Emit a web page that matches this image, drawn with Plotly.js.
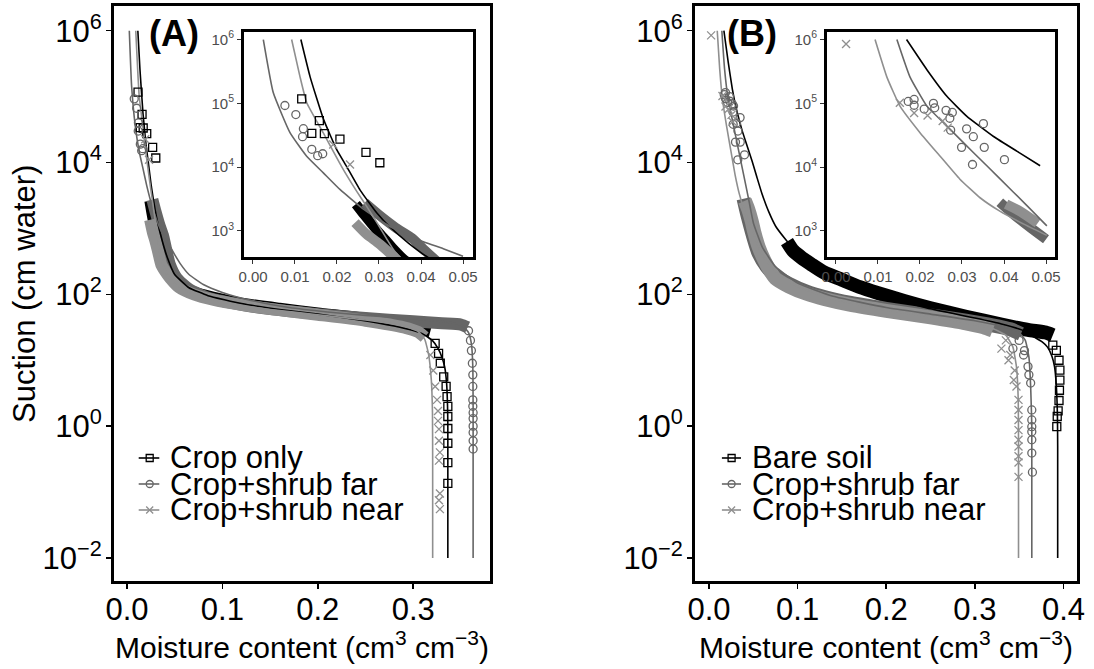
<!DOCTYPE html>
<html><head><meta charset="utf-8">
<script src="https://cdn.plot.ly/plotly-3.0.1.min.js"></script>
<style>html,body{margin:0;padding:0;background:#fff;}#chart{width:1094px;height:669px;}</style>
</head><body><div id="chart"></div>
<script>
// ===================== PANEL A =====================
// Fitted curves
const A_cropFit_theta = [0.0114,0.0136,0.0168,0.0199,0.0223,0.0255,0.0295,0.0326,0.0370,0.0420,0.0500,0.0650,0.0850,0.120,0.160,0.200,0.240,0.280,0.300,0.310,0.320,0.326,0.330,0.333,0.335,0.336,0.3363,0.3363];
const A_cropFit_h     = [1e6,2.6e5,5.6e4,1.9e4,1.02e4,4365,1905,1150,646,372,200,126,95.5,72.4,58.9,50.1,41.7,33.1,28.2,25.1,20,15.1,11.2,7.9,4.5,2.0,1.0,0.01];
const A_farFit_theta  = [0.00246,0.00484,0.00881,0.01278,0.01675,0.0207,0.0263,0.0326,0.0390,0.0453,0.050,0.056,0.065,0.080,0.100,0.130,0.170,0.210,0.250,0.290,0.320,0.340,0.352,0.358,0.361,0.3625,0.3628,0.3628];
const A_farFit_h      = [1e6,1.46e5,3.47e4,1.48e4,8130,4470,2190,1175,741,525,400,290,200,141,107,81,63,54,48,43.7,39.8,37.2,33.1,26.3,17.8,7.9,2.0,0.01];
const A_nearFit_theta = [0.0092,0.0112,0.0128,0.0167,0.0211,0.0247,0.0271,0.0295,0.0318,0.0335,0.036,0.042,0.050,0.070,0.100,0.150,0.200,0.250,0.290,0.305,0.312,0.316,0.319,0.3202,0.3204,0.3204];
const A_nearFit_h     = [1e6,2.6e5,1.02e5,3.47e4,1.02e4,4170,2400,1350,759,501,330,200,145,100,75.9,58.9,49,40.7,33.1,27.5,20.9,12.6,5.0,1.6,0.3,0.01];
// Dense sensor bands
const A_cropBand_theta = [0.0245,0.0265,0.029,0.031,0.033,0.036,0.040,0.046,0.055,0.07,0.09,0.12,0.16,0.20,0.25,0.29,0.31,0.318];
const A_cropBand_h     = [2630,1780,1120,794,562,355,251,191,141,107,89.1,72.4,60.3,51.3,42.7,34.7,29.5,27.5];
const A_farBand_theta  = [0.0266,0.030,0.034,0.038,0.0405,0.045,0.052,0.065,0.085,0.12,0.16,0.20,0.25,0.30,0.33,0.35,0.357];
const A_farBand_h      = [2750,1780,1120,759,525,282,178,120,89.1,69.2,57.5,50.1,43.7,38.9,36.3,34.7,31.6];
const A_nearBand_theta = [0.0243,0.027,0.030,0.0326,0.036,0.040,0.045,0.055,0.070,0.09,0.12,0.16,0.20,0.25,0.29,0.305,0.312];
const A_nearBand_h     = [1350,891,631,447,282,224,178,126,100,83.2,69.2,57.5,49,39.8,31.6,26.9,22.4];
// Observed points (lab high-suction + near-saturation sensor points)
const A_cropPts_theta = [0.0116,0.0140,0.0158,0.0170,0.0207,0.0269,0.0302, 0.323,0.3266,0.3284,0.332,0.3345,0.3355,0.3363,0.3363,0.3363,0.3363,0.3363,0.3363];
const A_cropPts_h     = [117000,33900,53700,33400,27500,17000,11700, 18,12.7,9.0,5.6,4.0,2.8,2.0,1.4,0.92,0.55,0.28,0.135];
const A_farPts_theta  = [0.0076,0.0102,0.0120,0.0118,0.0140,0.0154,0.0166, 0.358,0.360,0.361,0.362,0.3625,0.3625,0.3625,0.3625,0.3628,0.3628,0.3628,0.3628,0.3628,0.3628];
const A_farPts_h      = [92500,66600,40000,30000,19000,15100,16200, 28,20,14,9,6,4,2.5,2.0,1.6,1.3,1.0,0.8,0.6,0.45,0.35];
const A_nearPts_theta = [0.0191,0.0231, 0.318,0.321,0.323,0.325,0.326,0.326,0.327,0.327,0.328,0.327,0.328,0.327,0.328];
const A_nearPts_h     = [22600,11000, 12,7,4,2.5,1.7,1.2,0.9,0.6,0.4,0.3,0.095,0.075,0.055];

// ===================== PANEL B =====================
const B_bareFit_theta = [0.0168,0.0216,0.0264,0.0311,0.0375,0.0438,0.0486,0.054,0.0597,0.0675,0.0754,0.0872,0.100,0.120,0.150,0.190,0.250,0.300,0.330,0.355,0.366,0.376,0.382,0.387,0.390,0.392,0.3932,0.3935,0.3935];
const B_bareFit_h     = [1e6,3.4e5,1.29e5,6.31e4,3.02e4,1.66e4,1.05e4,6030,3390,1780,1070,661,417,263,158,100,60.3,43.7,35.5,28.2,22.9,19,15.8,11.5,7.9,4.0,1.5,0.5,0.01];
const B_farFit_theta  = [0.0145,0.0176,0.0216,0.0263,0.0327,0.0390,0.0454,0.0502,0.060,0.075,0.100,0.140,0.200,0.250,0.300,0.335,0.350,0.357,0.361,0.363,0.3643,0.3643];
const B_farFit_h      = [1e6,2.6e5,9.12e4,4.47e4,16980,6610,2510,1200,525,263,148,93.3,63.1,50.1,39.8,31.6,26.3,20,11.2,4.0,1.0,0.01];
const B_nearFit_theta = [0.0093,0.0121,0.0152,0.0200,0.0248,0.0295,0.0343,0.0390,0.0446,0.0502,0.060,0.075,0.100,0.140,0.200,0.250,0.290,0.320,0.335,0.343,0.347,0.349,0.3493,0.3493];
const B_nearFit_h     = [1e6,2.6e5,9.12e4,3.47e4,1.48e4,6460,3310,2040,1290,851,398,224,132,85.1,57.5,45.7,37.2,30.2,24.0,15.8,7.9,2.5,0.5,0.01];
const B_bareBand_theta = [0.088,0.095,0.105,0.115,0.13,0.15,0.17,0.19,0.22,0.25,0.29,0.33,0.36,0.38,0.388];
const B_bareBand_h     = [631,457,355,288,214,166,129,105,79.4,61.7,45.7,34.7,28.8,26.3,24.0];
const B_farBand_theta  = [0.039,0.043,0.0465,0.050,0.056,0.065,0.075,0.09,0.11,0.13,0.16,0.20,0.25,0.29,0.32,0.34,0.352];
const B_farBand_h      = [2820,1660,1100,741,417,263,191,145,110,91.2,74.1,60.3,47.9,39.8,33.9,29.5,25.1];
const B_nearBand_theta = [0.0405,0.044,0.048,0.051,0.056,0.065,0.075,0.09,0.11,0.13,0.16,0.20,0.25,0.29,0.31,0.32];
const B_nearBand_h     = [2630,2000,1320,891,525,282,174,132,102,85.1,69.2,56.2,44.7,36.3,31.6,28.2];
const B_barePts_theta = [0.388,0.392,0.395,0.396,0.396,0.3955,0.395,0.394,0.393,0.3925];
const B_barePts_h     = [17,14.1,10,7.1,5.0,3.5,2.45,1.7,1.4,0.98];
const B_farPts_theta  = [0.0172,0.0186,0.0186,0.0210,0.0232,0.0235,0.0262,0.0277,0.0271,0.0273,0.0299,0.0311,0.0327,0.0325,0.0353,0.0401,0.0351, 0.343,0.350,0.355,0.356,0.360,0.361,0.363,0.3643,0.3643,0.3643,0.3643,0.3643,0.3643,0.365];
const B_farPts_h      = [107000,115000,93300,81300,100000,85000,77600,72000,58300,38000,20400,39800,30000,11000,20400,13100,48000, 15.1,20,12,14,8,6,4.5,1.76,1.24,0.98,0.82,0.62,0.39,0.2];
const B_nearPts_theta = [0.0024,0.0152,0.0186,0.0218,0.0254,0.0266, 0.330,0.335,0.338,0.340,0.344,0.345,0.347,0.3493,0.3493,0.3493,0.3493,0.3493,0.3493,0.3493,0.3493,0.3493];
const B_nearPts_h     = [850000,102000,70600,64500,52800,41600, 15,20,10,12,5,7,4,2.5,1.76,1.24,0.87,0.62,0.49,0.35,0.28,0.17];

// Tick labels / legend labels
const mainYTickVals = [0.01,1,100,1e4,1e6];
const mainYTickText = ['10<sup>−2</sup>','10<sup>0</sup>','10<sup>2</sup>','10<sup>4</sup>','10<sup>6</sup>'];
const insetYTickVals = [1e3,1e4,1e5,1e6];
const insetYTickText = ['10<sup>3</sup>','10<sup>4</sup>','10<sup>5</sup>','10<sup>6</sup>'];
const A_labels = ['Crop only','Crop+shrub far','Crop+shrub near'];
const B_labels = ['Bare soil','Crop+shrub far','Crop+shrub near'];
const INSET_XMAX = 0.0505; // inset keeps only points inside its x limit (as ggplot limits do)

const BLACK='#000000', FAR='#666666', NEAR='#8f8f8f';
const A_series = [
  {bt:A_cropBand_theta,bh:A_cropBand_h,ft:A_cropFit_theta,fh:A_cropFit_h,pt:A_cropPts_theta,ph:A_cropPts_h,color:BLACK,sym:'square-open',bw:12},
  {bt:A_farBand_theta,bh:A_farBand_h,ft:A_farFit_theta,fh:A_farFit_h,pt:A_farPts_theta,ph:A_farPts_h,color:FAR,sym:'circle-open',bw:12},
  {bt:A_nearBand_theta,bh:A_nearBand_h,ft:A_nearFit_theta,fh:A_nearFit_h,pt:A_nearPts_theta,ph:A_nearPts_h,color:NEAR,sym:'x-thin-open',bw:12}
];
const B_series = [
  {bt:B_bareBand_theta,bh:B_bareBand_h,ft:B_bareFit_theta,fh:B_bareFit_h,pt:B_barePts_theta,ph:B_barePts_h,color:BLACK,sym:'square-open',bw:14},
  {bt:B_farBand_theta,bh:B_farBand_h,ft:B_farFit_theta,fh:B_farFit_h,pt:B_farPts_theta,ph:B_farPts_h,color:FAR,sym:'circle-open',bw:14},
  {bt:B_nearBand_theta,bh:B_nearBand_h,ft:B_nearFit_theta,fh:B_nearFit_h,pt:B_nearPts_theta,ph:B_nearPts_h,color:NEAR,sym:'x-thin-open',bw:14}
];

function limitX(xs, ys, xmax) {
  if (xmax === undefined) return [xs, ys];
  const ox = [], oy = [];
  for (let i = 0; i < xs.length; i++) { if (xs[i] <= xmax) { ox.push(xs[i]); oy.push(ys[i]); } else break; }
  return [ox, oy];
}
function limitPts(xs, ys, xmax) {
  if (xmax === undefined) return [xs, ys];
  const ox = [], oy = [];
  for (let i = 0; i < xs.length; i++) if (xs[i] <= xmax) { ox.push(xs[i]); oy.push(ys[i]); }
  return [ox, oy];
}

function panelTraces(xa, ya, series, xmax, inset) {
  const tr = [];
  series.forEach(s => { const [x,y] = limitX(s.bt, s.bh, xmax);
    tr.push({type:'scatter',mode:'lines',x:x,y:y,xaxis:xa,yaxis:ya,
    line:{color:s.color,width:inset?10:s.bw,shape:'spline',smoothing:0.6},hoverinfo:'skip',showlegend:false}); });
  series.forEach(s => { const [x,y] = limitX(s.ft, s.fh, xmax);
    tr.push({type:'scatter',mode:'lines',x:x,y:y,xaxis:xa,yaxis:ya,
    line:{color:s.color,width:1.6,shape:'spline',smoothing:0.4},hoverinfo:'skip',showlegend:false}); });
  series.forEach(s => { const [x,y] = limitPts(s.pt, s.ph, xmax);
    tr.push({type:'scatter',mode:'markers',x:x,y:y,xaxis:xa,yaxis:ya,
    marker:{symbol:s.sym,size:8,color:s.color,line:{color:s.color,width:1.3}},hoverinfo:'skip',showlegend:false}); });
  return tr;
}

// legend key traces (on small legend subplots)
const legendRows = [458,484,510];
function legendTraces(xa, ya, series, x0, x1, xm) {
  const tr = [];
  series.forEach((s,i) => {
    tr.push({type:'scatter',mode:'lines',x:[x0,x1],y:[legendRows[i],legendRows[i]],xaxis:xa,yaxis:ya,
      line:{color:s.color,width:1.6},hoverinfo:'skip',showlegend:false});
    tr.push({type:'scatter',mode:'markers',x:[xm],y:[legendRows[i]],xaxis:xa,yaxis:ya,
      marker:{symbol:s.sym,size:7,color:s.color,line:{color:s.color,width:1.3}},hoverinfo:'skip',showlegend:false,cliponaxis:false});
  });
  return tr;
}

const traces = [].concat(
  panelTraces('x','y',A_series),
  panelTraces('x2','y2',B_series),
  panelTraces('x3','y3',A_series,INSET_XMAX,true),
  panelTraces('x4','y4',B_series,INSET_XMAX,true),
  legendTraces('x5','y5',A_series,138.7,159.3,149.7),
  legendTraces('x6','y6',B_series,721.9,741,731.6)
);

const FONT = 'Liberation Sans, Arial, Helvetica, sans-serif';
function mainX(dom, rng, anchor) {
  return {domain:dom,range:rng,anchor:anchor,showline:true,mirror:true,linecolor:'#000',linewidth:3,
    ticks:'outside',ticklen:5,tickwidth:1.5,tickcolor:'#000',tick0:0,dtick:0.1,tickformat:'.1f',ticklabelstandoff:-6,
    tickfont:{size:31,color:'#000',family:FONT},showgrid:false,zeroline:false,fixedrange:true};
}
function mainY(anchor) {
  return {domain:[0.13154,0.99103],type:'log',range:[-2.35,6.375],anchor:anchor,showline:true,mirror:true,
    linecolor:'#000',linewidth:3,ticks:'outside',ticklen:5,tickwidth:1.5,tickcolor:'#000',ticklabelstandoff:-2,
    tickmode:'array',tickvals:mainYTickVals,ticktext:mainYTickText,
    tickfont:{size:31,color:'#000',family:FONT},showgrid:false,zeroline:false,fixedrange:true};
}
function insetX(dom, rng, anchor) {
  return {domain:dom,range:rng,anchor:anchor,showline:true,mirror:true,linecolor:'#000',linewidth:3,
    ticks:'outside',ticklen:4,tickwidth:1,tickcolor:'#333',tick0:0,dtick:0.01,tickformat:'.2f',
    tickfont:{size:15,color:'#4d4d4d',family:FONT},showgrid:false,zeroline:false,fixedrange:true};
}
function insetY(anchor) {
  return {domain:[0.61584,0.95217],type:'log',range:[2.591,6.118],anchor:anchor,showline:true,mirror:true,
    linecolor:'#000',linewidth:3,ticks:'outside',ticklen:4,tickwidth:1,tickcolor:'#333',
    tickmode:'array',tickvals:insetYTickVals,ticktext:insetYTickText,
    tickfont:{size:15,color:'#4d4d4d',family:FONT},showgrid:false,zeroline:false,fixedrange:true};
}
function hiddenAx(dom, rng, anchor) {
  return {domain:dom,range:rng,anchor:anchor,visible:false,fixedrange:true,showgrid:false,zeroline:false};
}

function ann(text, x, y, size, extra) {
  return Object.assign({text:text,x:x,y:y,xref:'paper',yref:'paper',xanchor:'center',yanchor:'middle',
    showarrow:false,font:{size:size,color:'#000',family:FONT}}, extra||{});
}
const annotations = [
  ann('<b>(A)</b>',0.15905,0.95067,36),
  ann('<b>(B)</b>',0.68784,0.95067,36),
  ann('Moisture content (cm<sup>3</sup> cm<sup>−3</sup>)',0.27605,0.03587,30),
  ann('Moisture content (cm<sup>3</sup> cm<sup>−3</sup>)',0.80987,0.03587,30),
  ann('Suction (cm water)',0.02285,0.56054,31,{textangle:-90})
];
const legY = [0.31540,0.27653,0.23767];
A_labels.forEach((t,i)=>annotations.push(ann(t,0.15356,legY[i],31,{xanchor:'left'})));
B_labels.forEach((t,i)=>annotations.push(ann(t,0.68556,legY[i],31,{xanchor:'left'})));

const layout = {
  width:1094,height:669,margin:{l:0,r:0,t:0,b:0},paper_bgcolor:'#fff',plot_bgcolor:'#fff',
  showlegend:false,font:{family:FONT,color:'#000'},
  xaxis:mainX([0.10420,0.44790],[-0.0136,0.3805],'y'),
  yaxis:mainY('x'),
  xaxis2:mainX([0.63528,0.98446],[-0.0158,0.4153],'y2'),
  yaxis2:mainY('x2'),
  xaxis3:insetX([0.22303,0.43236],[-0.00214,0.05238],'y3'),
  yaxis3:insetY('x3'),
  xaxis4:insetX([0.75594,0.96435],[-0.00214,0.05214],'y4'),
  yaxis4:insetY('x4'),
  xaxis5:hiddenAx([0.11700,0.15722],[128,172],'y5'),
  yaxis5:hiddenAx([0.21525,0.33782],[525,443],'x5'),
  xaxis6:hiddenAx([0.64991,0.69013],[711,755],'y6'),
  yaxis6:hiddenAx([0.21525,0.33782],[525,443],'x6'),
  annotations:annotations
};
Plotly.newPlot('chart',traces,layout,{staticPlot:true,displayModeBar:false});
</script></body></html>
